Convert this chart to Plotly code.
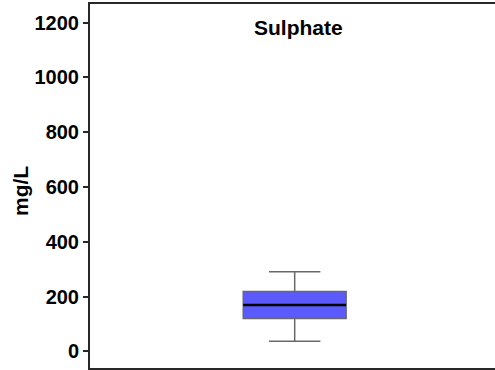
import plotly.graph_objects as go

# Data
category = ["Sulphate"]
lower_whisker = [37]
q1 = [120]
median = [169]
q3 = [218]
upper_whisker = [290]

y_ticks = [0, 200, 400, 600, 800, 1000, 1200]

FONT = "Liberation Sans, Arial, sans-serif"
box_w = 0.254

fig = go.Figure()
fig.add_trace(go.Box(
    x=[0],
    q1=q1, median=median, q3=q3,
    lowerfence=lower_whisker, upperfence=upper_whisker,
    width=box_w,
    whiskerwidth=0.5,
    fillcolor="rgb(90,90,255)",
    line=dict(color="rgb(105,105,105)", width=1.5),
    boxpoints=False,
    showlegend=False,
    hoverinfo="skip",
))
fig.add_trace(go.Scatter(
    x=[-box_w / 2, box_w / 2],
    y=[median[0], median[0]],
    mode="lines",
    line=dict(color="black", width=2.5),
    showlegend=False,
    hoverinfo="skip",
))

fig.update_layout(
    width=495, height=370,
    margin=dict(l=90, r=0, t=4, b=2),
    paper_bgcolor="white", plot_bgcolor="white",
    font=dict(family=FONT, color="black"),
    xaxis=dict(
        range=[-0.5054, 0.4946],
        showticklabels=False, ticks="",
        showgrid=False, zeroline=False,
        showline=True, linecolor="rgb(40,40,40)", linewidth=2, mirror=True,
        fixedrange=True,
    ),
    yaxis=dict(
        range=[-61, 1268],
        tickvals=y_ticks,
        ticktext=[str(v) for v in y_ticks],
        tickfont=dict(family=FONT, size=20, color="black", weight="bold"),
        ticks="outside", ticklen=5, tickwidth=1.5, tickcolor="rgb(40,40,40)",
        showgrid=False, zeroline=False,
        showline=True, linecolor="rgb(40,40,40)", linewidth=2,
        fixedrange=True,
    ),
    annotations=[
        dict(text="Sulphate", xref="paper", yref="paper",
             x=(298 - 90) / 405, y=1 - (28 - 4) / 364,
             xanchor="center", yanchor="middle", showarrow=False,
             font=dict(family=FONT, size=21, color="black", weight="bold")),
        dict(text="mg/L", xref="paper", yref="paper",
             x=(21 - 90) / 405, y=1 - (191 - 4) / 364,
             xanchor="center", yanchor="middle", showarrow=False,
             textangle=-90,
             font=dict(family=FONT, size=21, color="black", weight="bold")),
    ],
)

fig.write_html("out.html", config={"displayModeBar": False})
